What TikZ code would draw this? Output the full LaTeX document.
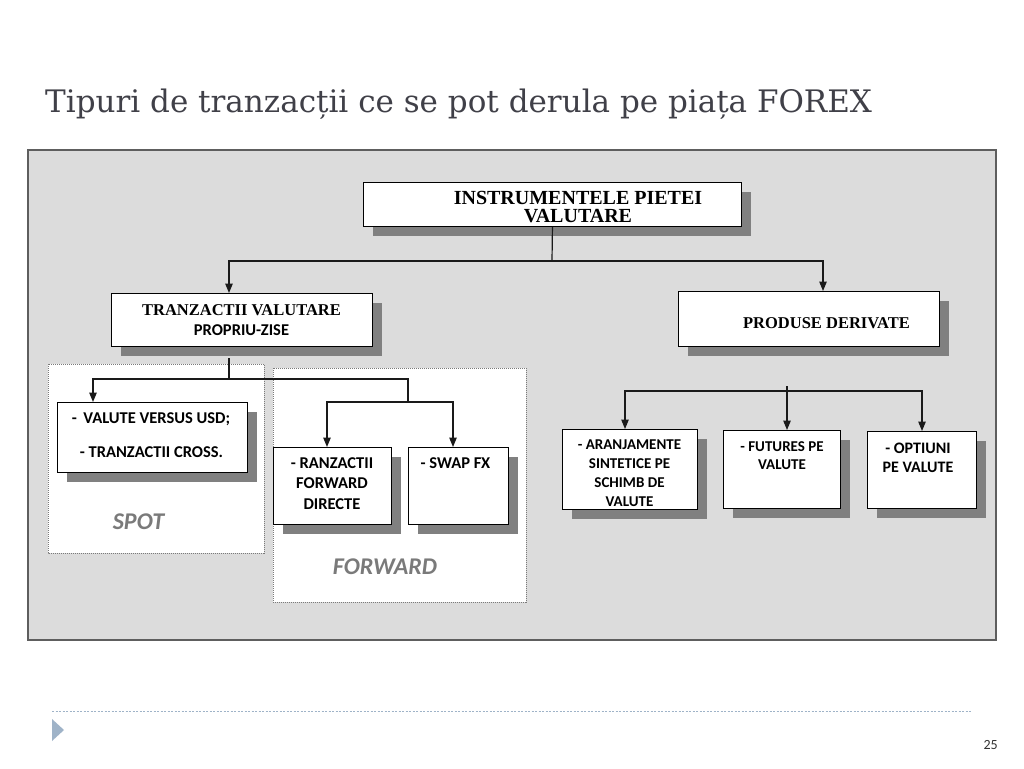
\documentclass[tikz,border=0pt]{standalone}
\usepackage{fontspec}
\setmainfont{Liberation Serif}
\newfontfamily\tnr{Liberation Serif}
\newfontfamily\calib{Carlito}
\newfontfamily\titlef{DejaVu Serif}
\usetikzlibrary{arrows.meta,shadows}
\definecolor{panelgray}{HTML}{DCDCDC}
\definecolor{panelborder}{HTML}{5E5E5E}
\definecolor{shadowgray}{HTML}{808080}
\definecolor{titlecol}{HTML}{404048}
\definecolor{labelgray}{HTML}{7A7A7A}
\definecolor{footblue}{HTML}{9FB3C8}
\definecolor{linecol}{HTML}{1A1A1A}
\begin{document}
\begin{tikzpicture}[x=1pt,y=-1pt,
  box/.style={draw=black, line width=0.9pt, fill=white, inner sep=0pt, anchor=north west,
    general shadow={fill=shadowgray, shadow xshift=9.5pt, shadow yshift=-9.5pt}},
  region/.style={draw=labelgray, line width=0.8pt, dash pattern=on 1pt off 1pt, fill=white},
  conn/.style={draw=linecol, line width=1.2pt},
  arr/.style={conn, -{Triangle[length=9.5pt,width=7.5pt]}},
  tnrb/.style={font=\tnr\bfseries\fontsize{16.5}{19}\selectfont, inner sep=0pt, anchor=base},
  calb/.style={font=\calib\bfseries\fontsize{16.5}{20.5}\selectfont, inner sep=0pt, align=center},
  bigit/.style={font=\calib\bfseries\itshape\fontsize{24}{26}\selectfont, text=labelgray, inner sep=0pt, anchor=base}
]
\useasboundingbox (0,0) rectangle (1024,768);
\fill[white] (0,0) rectangle (1024,768);

% title
\node[anchor=base west, font=\titlef\fontsize{31}{36}\selectfont, text=titlecol, inner sep=0pt] (title) at (45,112) {Tipuri de tranzacții ce se pot derula pe piața FOREX};

% panel
\draw[fill=panelgray, draw=panelborder, line width=1.2pt] (28,150) rectangle (996,640);

% dotted regions
\draw[region] (48,364) rectangle (264,553);
\draw[region] (273,368) rectangle (526,602);

% boxes
\node[box, minimum width=378pt, minimum height=44pt] (instr) at (363,182) {};
\node[box, minimum width=261pt, minimum height=53pt] (tranz) at (111,293) {};
\node[box, minimum width=261pt, minimum height=55pt] (prod) at (678,291) {};
\node[box, minimum width=190pt, minimum height=70pt] (valute) at (57,402) {};
\node[box, minimum width=118pt, minimum height=77pt] (fwd) at (273,447) {};
\node[box, minimum width=100pt, minimum height=77pt] (swap) at (408,447) {};
\node[box, minimum width=135pt, minimum height=80pt] (aranj) at (562,429) {};
\node[box, minimum width=117pt, minimum height=78pt] (fut) at (723,430) {};
\node[box, minimum width=109pt, minimum height=77pt] (opt) at (867,431) {};

% texts
\node[font=\tnr\bfseries\fontsize{20}{18.5}\selectfont, align=center, inner sep=0pt] (tinstr) at (578,207) {INSTRUMENTELE PIETEI\\VALUTARE};
\node[tnrb] (ttranz1) at (241.5,315) {TRANZACTII VALUTARE};
\node[calb, anchor=base] (ttranz2) at (241.5,335) {PROPRIU-ZISE};
\node[tnrb] (tprod) at (826.5,328) {PRODUSE DERIVATE};
\node[calb, anchor=base] (tval1) at (151,423) {-\, VALUTE VERSUS USD;};
\node[calb, anchor=base] (tval2) at (151.5,457) {- TRANZACTII CROSS.};
\node[calb] (tfwd) at (332,483.5) {- RANZACTII\\FORWARD\\DIRECTE};
\node[calb, anchor=base] (tswap) at (455.5,468) {- SWAP FX};
\node[calb, font=\calib\bfseries\fontsize{15}{19}\selectfont] (taranj) at (629.5,473.6) {- ARANJAMENTE\\SINTETICE PE\\SCHIMB DE\\VALUTE};
\node[calb, font=\calib\bfseries\fontsize{15}{18}\selectfont] (tfut) at (782,455.2) {- FUTURES PE\\VALUTE};
\node[calb, font=\calib\bfseries\fontsize{16}{19}\selectfont] (topt) at (918,457.4) {- OPTIUNI\\PE VALUTE};
\node[bigit] (tspot) at (138.5,529) {SPOT};
\node[bigit] (tforward) at (385,574) {FORWARD};

% connectors: top level
\coordinate (j1) at (552,261);
\coordinate (tranzin) at (229,293);
\coordinate (prodin) at (823,291);
\draw[conn] (instr.south) -- (j1);
\draw[arr] (j1) -| (tranzin);
\draw[arr] (j1) -| (prodin);

% left subtree
\coordinate (ls) at (229,358);
\coordinate (lj) at (229,379);
\coordinate (valin) at (93,402);
\coordinate (fj) at (408,379);
\coordinate (fj2) at (408,402);
\coordinate (fwdin) at (327,447);
\coordinate (swapin) at (453,447);
\draw[conn] (ls) -- (lj);
\draw[arr] (lj) -| (valin);
\draw[conn] (lj) -- (fj) -- (fj2);
\draw[arr] (fj2) -| (fwdin);
\draw[arr] (fj2) -| (swapin);

% right subtree
\coordinate (rs) at (787,386);
\coordinate (rj) at (787,391);
\coordinate (aranjin) at (625,429);
\coordinate (futin) at (787,430);
\coordinate (optin) at (922,431);
\draw[conn] (rs) -- (rj);
\draw[arr] (rj) -| (aranjin);
\draw[arr] (rj) -- (futin);
\draw[arr] (rj) -| (optin);

% footer
\draw[footblue, line width=0.8pt, dash pattern=on 2pt off 1.5pt] (52,711) -- (972,711);
\fill[footblue] (52,719) -- (64,730) -- (52,741) -- cycle;
\node[anchor=base east, font=\calib\fontsize{14}{16}\selectfont, text=black!80, inner sep=0pt] (pnum) at (998,749) {25};
\end{tikzpicture}
\end{document}
